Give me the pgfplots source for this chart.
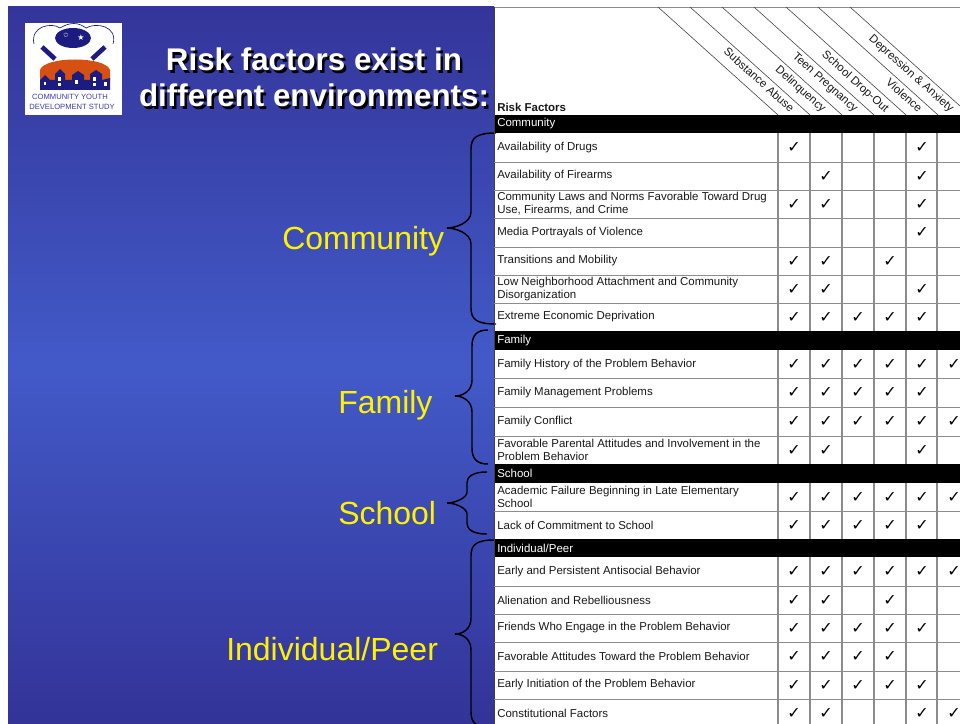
\documentclass[border=0pt]{standalone}
\usepackage{pgfplots}
\usepackage{pgfplotstable}
\pgfplotsset{compat=1.18}
\usepackage{fontspec}
\setmainfont{Liberation Sans}
\newfontfamily\dejavu{DejaVu Sans}
\definecolor{bgtop}{RGB}{52,53,154}
\definecolor{bgmid}{RGB}{66,90,200}
\definecolor{bgbot}{RGB}{51,51,152}
\definecolor{navy}{RGB}{28,28,128}
\definecolor{logoorange}{RGB}{214,80,20}
\definecolor{logotext}{RGB}{60,60,175}
\definecolor{gridgray}{RGB}{140,140,140}
\definecolor{diag}{RGB}{70,70,70}
\definecolor{txt}{RGB}{25,25,25}
\newcommand{\titlefont}{\fontsize{23.5pt}{27pt}\selectfont\bfseries}
\newcommand{\groupfont}{\fontsize{24pt}{28pt}\selectfont}
\newcommand{\tabfont}{\fontsize{8.6pt}{9.75pt}\selectfont}
% brace: #1 x of ends, #2 x of vertical, #3 x of tip, #4 y top, #5 y tip, #6 y bottom, #7 radius
\newcommand{\bigbrace}[7]{%
  \draw[black, line width=1.1pt]
   (axis cs:#1,#4) .. controls (axis cs:\the\numexpr#2+5\relax,#4) and (axis cs:#2,\the\numexpr#4+5\relax) .. (axis cs:#2,\the\numexpr#4+#7\relax)
   -- (axis cs:#2,\the\numexpr#5-#7\relax) .. controls (axis cs:#2,\the\numexpr#5-5\relax) and (axis cs:\the\numexpr#3+8\relax,#5) .. (axis cs:#3,#5)
   .. controls (axis cs:\the\numexpr#3+8\relax,#5) and (axis cs:#2,\the\numexpr#5+5\relax) .. (axis cs:#2,\the\numexpr#5+#7\relax)
   -- (axis cs:#2,\the\numexpr#6-#7\relax) .. controls (axis cs:#2,\the\numexpr#6-5\relax) and (axis cs:\the\numexpr#2+5\relax,#6) .. (axis cs:#1,#6);}

% check marks: column (1 Substance Abuse ... 6 Depression & Anxiety), row centre (px from top)
\pgfplotstableread{
col y
1 147.5
5 147.5
2 176
5 176
1 204
2 204
5 204
5 232.5
1 261
2 261
4 261
1 289
2 289
5 289
1 317
2 317
3 317
4 317
5 317
1 364.5
2 364.5
3 364.5
4 364.5
5 364.5
6 364.5
1 392.5
2 392.5
3 392.5
4 392.5
5 392.5
1 421.5
2 421.5
3 421.5
4 421.5
5 421.5
6 421.5
1 450
2 450
5 450
1 497
2 497
3 497
4 497
5 497
6 497
1 525
2 525
3 525
4 525
5 525
1 571.5
2 571.5
3 571.5
4 571.5
5 571.5
6 571.5
1 600
2 600
4 600
1 628
2 628
3 628
4 628
5 628
1 656.5
2 656.5
3 656.5
4 656.5
1 685
2 685
3 685
4 685
5 685
1 713
2 713
5 713
6 713
}\checks

\begin{document}
\begin{tikzpicture}
\useasboundingbox (0,0) rectangle (720pt,543pt);
\begin{axis}[
  at={(0,0)}, anchor=south west,
  width=720pt, height=543pt, scale only axis,
  xmin=0, xmax=960, ymin=0, ymax=724, y dir=reverse,
  hide axis, clip=true,
]
% backgrounds
\fill[white] (axis cs:0,0) rectangle (axis cs:960,724);
\shade[top color=bgtop, bottom color=bgbot, middle color=bgmid] (axis cs:8,7) rectangle (axis cs:494,724);

% logo
\fill[white] (axis cs:25,23) rectangle (axis cs:122,115);
\draw[navy, line width=0.5pt] (axis cs:34,44) .. controls (axis cs:30,26) and (axis cs:52,22) .. (axis cs:60,28)
   .. controls (axis cs:70,22) and (axis cs:78,22) .. (axis cs:86,28) .. controls (axis cs:96,22) and (axis cs:118,26) .. (axis cs:113,44);
\fill[navy] (axis cs:73,38) ellipse [x radius=13.5pt, y radius=7.5pt];
\node[white, font=\dejavu\fontsize{6pt}{6pt}\selectfont] at (axis cs:81,38) {★};
\node[white, font=\dejavu\fontsize{5pt}{5pt}\selectfont] at (axis cs:66,35) {✩};
\draw[navy, line width=3.5pt] (axis cs:42,47) -- (axis cs:55,59);
\draw[navy, line width=3.5pt] (axis cs:105,47) -- (axis cs:92,59);
\fill[logoorange] (axis cs:40,82) -- (axis cs:40,70) .. controls (axis cs:44,56) and (axis cs:106,56) .. (axis cs:110,70) -- (axis cs:110,82) -- cycle;
\fill[navy] (axis cs:40,90) -- (axis cs:40,80) -- (axis cs:45,75) -- (axis cs:50,80) -- (axis cs:55,80) -- (axis cs:55,74)
  -- (axis cs:60,69) -- (axis cs:65,74) -- (axis cs:65,80) -- (axis cs:72,80) -- (axis cs:72,75) -- (axis cs:78,71)
  -- (axis cs:84,75) -- (axis cs:84,80) -- (axis cs:90,80) -- (axis cs:90,74) -- (axis cs:96,70) -- (axis cs:102,74)
  -- (axis cs:102,80) -- (axis cs:110,78) -- (axis cs:110,90) -- cycle;
\fill[white] (axis cs:44,82) rectangle (axis cs:46,85);
\fill[white] (axis cs:58,77) rectangle (axis cs:61,81);
\fill[white] (axis cs:58,83) rectangle (axis cs:61,86);
\fill[white] (axis cs:75,80) rectangle (axis cs:78,84);
\fill[white] (axis cs:93,77) rectangle (axis cs:96,81);
\fill[white] (axis cs:93,83) rectangle (axis cs:96,86);
\fill[white] (axis cs:104,82) rectangle (axis cs:107,86);
\node[logotext, inner sep=0pt, font=\fontsize{5.7pt}{6pt}\selectfont] at (axis cs:70,97) {COMMUNITY YOUTH};
\node[logotext, inner sep=0pt, font=\fontsize{5.7pt}{6pt}\selectfont] at (axis cs:72,107) {DEVELOPMENT STUDY};

% title
\node[anchor=base, black, font=\titlefont] at (axis cs:316.5,73.5) {Risk factors exist in};
\node[anchor=base, white, font=\titlefont] at (axis cs:314,71) {Risk factors exist in};
\node[anchor=base, black, font=\titlefont] at (axis cs:316.5,109.5) {different environments:};
\node[anchor=base, white, font=\titlefont] at (axis cs:314,107) {different environments:};

% group labels
\node[anchor=base west, inner sep=0pt, yellow, font=\groupfont] at (axis cs:282,249) {Community};
\node[anchor=base west, inner sep=0pt, yellow, font=\groupfont] at (axis cs:338,413) {Family};
\node[anchor=base west, inner sep=0pt, yellow, font=\groupfont] at (axis cs:338,524) {School};
\node[anchor=base west, inner sep=0pt, yellow, font=\groupfont] at (axis cs:226,660) {Individual/Peer};

% braces
\bigbrace{496}{471}{447}{133}{228}{324}{16}
\bigbrace{488}{472}{455}{330}{396}{464}{16}
\bigbrace{487}{467}{447}{472}{503}{534}{11}
\bigbrace{494}{471}{455}{540}{634}{728}{16}

% table frame
\draw[gridgray, line width=0.75pt] (axis cs:494,7.5) -- (axis cs:960,7.5);
\draw[black!75, line width=0.9pt] (axis cs:494.5,7) -- (axis cs:494.5,724);

% diagonal header lines
\draw[diag, line width=0.45pt] (axis cs:658,7) -- (axis cs:778,115);
\draw[diag, line width=0.45pt] (axis cs:690,7) -- (axis cs:810,115);
\draw[diag, line width=0.45pt] (axis cs:722,7) -- (axis cs:842,115);
\draw[diag, line width=0.45pt] (axis cs:754,7) -- (axis cs:874,115);
\draw[diag, line width=0.45pt] (axis cs:786,7) -- (axis cs:906,115);
\draw[diag, line width=0.45pt] (axis cs:818,7) -- (axis cs:938,115);
\draw[diag, line width=0.45pt] (axis cs:850,7) -- (axis cs:970,115);

% header labels
\node[anchor=base east, rotate=-42, inner sep=0pt, txt, font=\tabfont] at (axis cs:790,113) {Substance Abuse};
\node[anchor=base east, rotate=-42, inner sep=0pt, txt, font=\tabfont] at (axis cs:822,113) {Delinquency};
\node[anchor=base east, rotate=-42, inner sep=0pt, txt, font=\tabfont] at (axis cs:854,113) {Teen Pregnancy};
\node[anchor=base east, rotate=-42, inner sep=0pt, txt, font=\tabfont] at (axis cs:885,113) {School Drop-Out};
\node[anchor=base east, rotate=-42, inner sep=0pt, txt, font=\tabfont] at (axis cs:918,113) {Violence};
\node[anchor=base east, rotate=-42, inner sep=0pt, txt, font=\tabfont] at (axis cs:950,113) {Depression \& Anxiety};
\node[anchor=base west, inner sep=0pt, txt, font=\tabfont\bfseries] at (axis cs:497,111) {Risk Factors};

% vertical grid lines
\draw[gridgray, line width=1pt] (axis cs:778,115) -- (axis cs:778,724);
\draw[gridgray, line width=1pt] (axis cs:810,115) -- (axis cs:810,724);
\draw[gridgray, line width=1pt] (axis cs:842,115) -- (axis cs:842,724);
\draw[gridgray, line width=1pt] (axis cs:874,115) -- (axis cs:874,724);
\draw[gridgray, line width=1pt] (axis cs:906,115) -- (axis cs:906,724);
\draw[gridgray, line width=1pt] (axis cs:937,115) -- (axis cs:937,724);

% horizontal grid lines
\draw[gridgray, line width=0.75pt] (axis cs:494,162) -- (axis cs:960,162);
\draw[gridgray, line width=0.75pt] (axis cs:494,190) -- (axis cs:960,190);
\draw[gridgray, line width=0.75pt] (axis cs:494,218) -- (axis cs:960,218);
\draw[gridgray, line width=0.75pt] (axis cs:494,247) -- (axis cs:960,247);
\draw[gridgray, line width=0.75pt] (axis cs:494,275) -- (axis cs:960,275);
\draw[gridgray, line width=0.75pt] (axis cs:494,303) -- (axis cs:960,303);
\draw[gridgray, line width=0.75pt] (axis cs:494,378) -- (axis cs:960,378);
\draw[gridgray, line width=0.75pt] (axis cs:494,407) -- (axis cs:960,407);
\draw[gridgray, line width=0.75pt] (axis cs:494,436) -- (axis cs:960,436);
\draw[gridgray, line width=0.75pt] (axis cs:494,511) -- (axis cs:960,511);
\draw[gridgray, line width=0.75pt] (axis cs:494,586) -- (axis cs:960,586);
\draw[gridgray, line width=0.75pt] (axis cs:494,614) -- (axis cs:960,614);
\draw[gridgray, line width=0.75pt] (axis cs:494,642) -- (axis cs:960,642);
\draw[gridgray, line width=0.75pt] (axis cs:494,671) -- (axis cs:960,671);
\draw[gridgray, line width=0.75pt] (axis cs:494,699) -- (axis cs:960,699);

% black group bars
\fill[black] (axis cs:495,115) rectangle (axis cs:960,133);
\fill[black] (axis cs:495,331) rectangle (axis cs:960,350);
\fill[black] (axis cs:495,464) rectangle (axis cs:960,483);
\fill[black] (axis cs:495,539) rectangle (axis cs:960,557);
\node[anchor=west, inner sep=0pt, white, font=\tabfont] at (axis cs:497,124) {Community};
\node[anchor=west, inner sep=0pt, white, font=\tabfont] at (axis cs:497,340.5) {Family};
\node[anchor=west, inner sep=0pt, white, font=\tabfont] at (axis cs:497,473.5) {School};
\node[anchor=west, inner sep=0pt, white, font=\tabfont] at (axis cs:497,548) {Individual/Peer};

% row labels
\begin{scope}[every node/.style={anchor=west, inner sep=0pt, txt, font=\tabfont, align=left}]
\node at (axis cs:497,147.5) {Availability of Drugs};
\node at (axis cs:497,176) {Availability of Firearms};
\node at (axis cs:497,204) {Community Laws and Norms Favorable Toward Drug\\Use, Firearms, and Crime};
\node at (axis cs:497,232.5) {Media Portrayals of Violence};
\node at (axis cs:497,261) {Transitions and Mobility};
\node at (axis cs:497,289) {Low Neighborhood Attachment and Community\\Disorganization};
\node at (axis cs:497,317) {Extreme Economic Deprivation};
\node at (axis cs:497,364.5) {Family History of the Problem Behavior};
\node at (axis cs:497,392.5) {Family Management Problems};
\node at (axis cs:497,421.5) {Family Conflict};
\node at (axis cs:497,450) {Favorable Parental Attitudes and Involvement in the\\Problem Behavior};
\node at (axis cs:497,497) {Academic Failure Beginning in Late Elementary\\School};
\node at (axis cs:497,525) {Lack of Commitment to School};
\node at (axis cs:497,571.5) {Early and Persistent Antisocial Behavior};
\node at (axis cs:497,600) {Alienation and Rebelliousness};
\node at (axis cs:497,628) {Friends Who Engage in the Problem Behavior};
\node at (axis cs:497,656.5) {Favorable Attitudes Toward the Problem Behavior};
\node at (axis cs:497,685) {Early Initiation of the Problem Behavior};
\node at (axis cs:497,713) {Constitutional Factors};
\end{scope}

% check marks
\addplot[only marks, mark=text, text mark={✓}, text mark as node=true,
  text mark style={font=\dejavu\fontsize{12pt}{12pt}\selectfont, inner sep=0pt, anchor=center, text=black}]
  table[x expr={762+32*\thisrow{col}}, y=y] {\checks};
\end{axis}
\end{tikzpicture}
\end{document}
